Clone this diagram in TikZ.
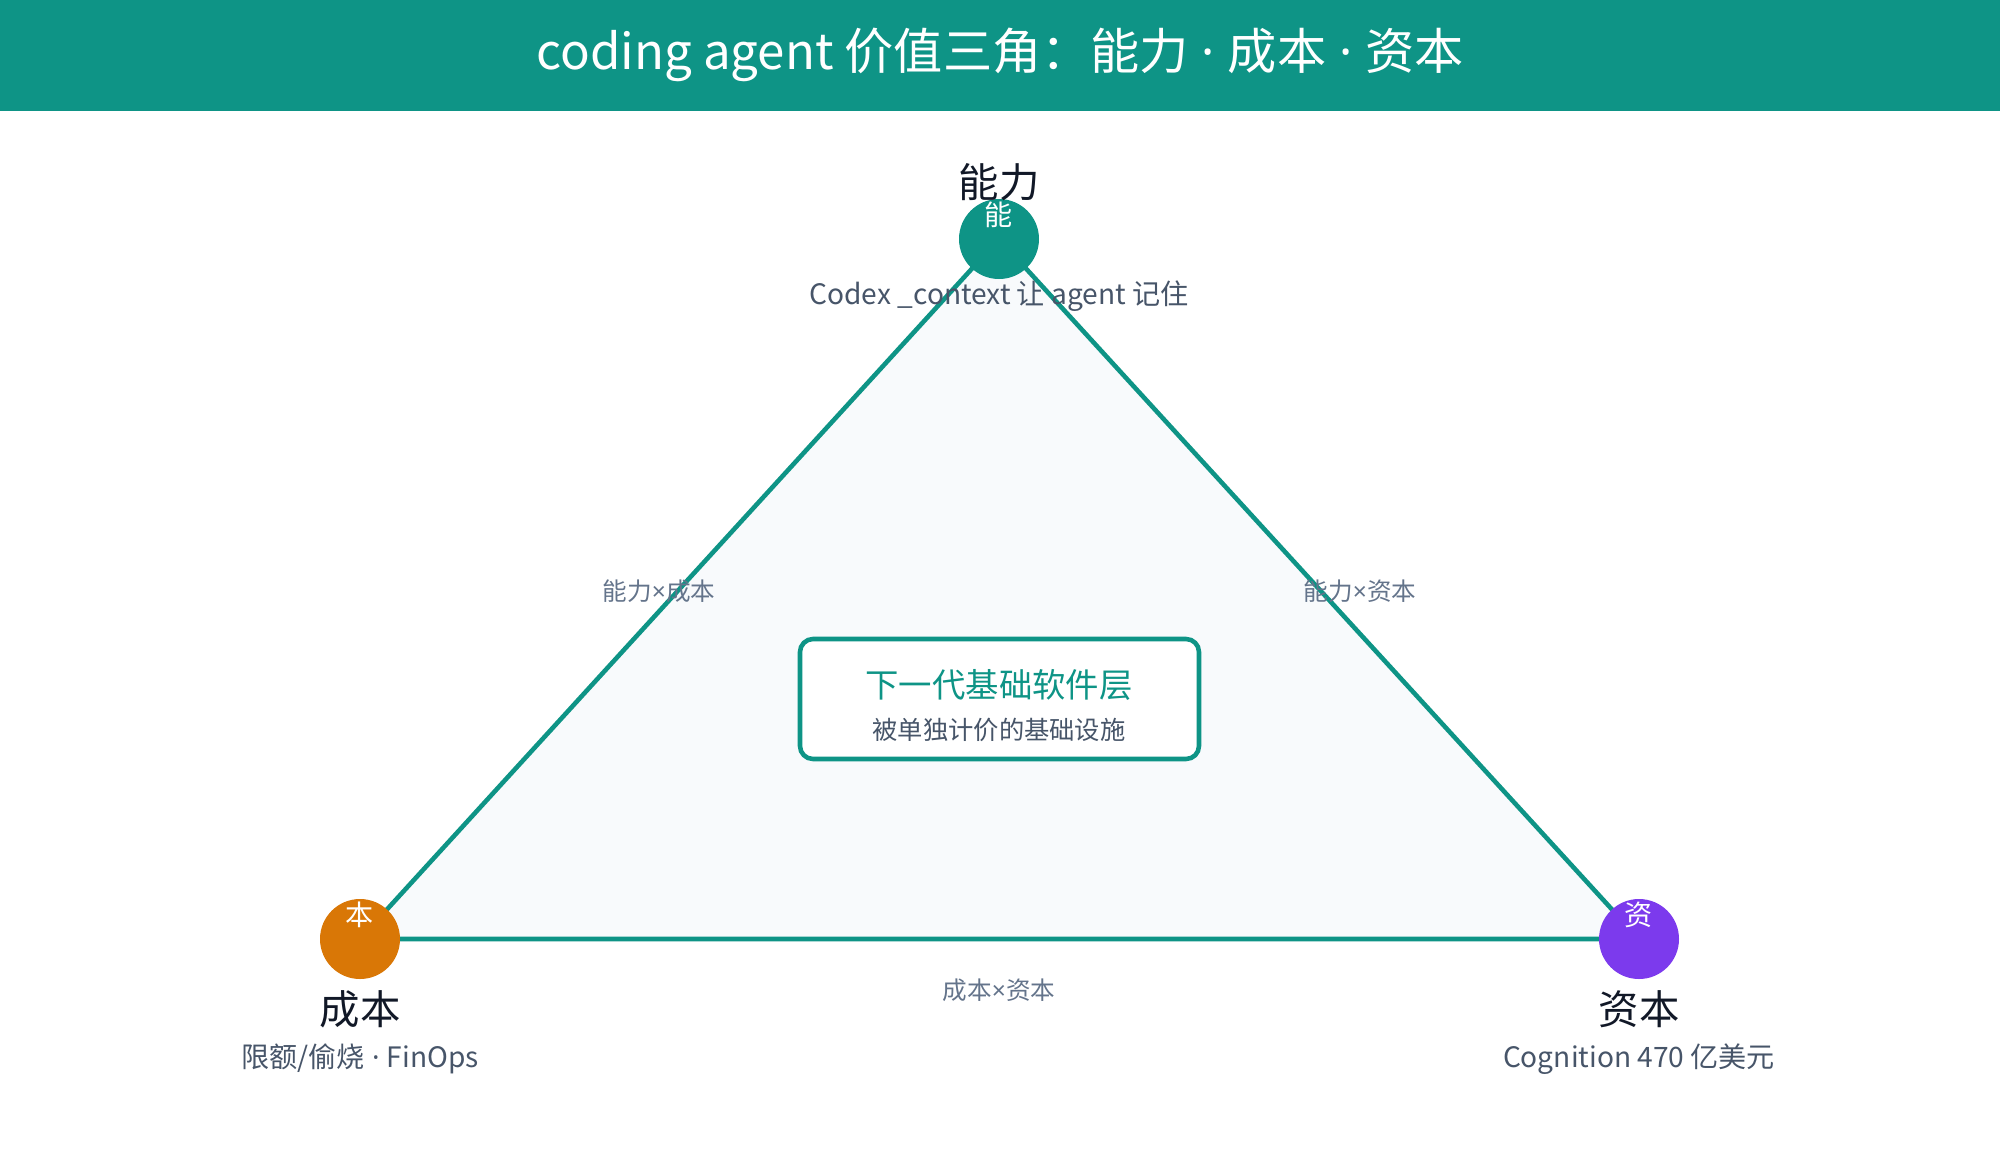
\documentclass[tikz,border=0pt]{standalone}
\usepackage{fontspec}
\setmainfont{Noto Sans CJK SC}
\newfontfamily\latn{Noto Sans}
\newcommand{\dotsep}{{\latn\ ·\ }}
\newcommand{\tms}{{\latn ×}}
\usetikzlibrary{positioning}
\definecolor{teal}{RGB}{14,148,134}
\definecolor{orangeC}{RGB}{217,119,6}
\definecolor{purpleC}{RGB}{124,58,237}
\definecolor{darktext}{RGB}{17,24,39}
\definecolor{subtext}{RGB}{71,85,105}
\definecolor{edgetext}{RGB}{100,116,139}
\definecolor{trifill}{RGB}{248,250,252}
\tikzset{
  corner/.style={circle,minimum size=0.8cm,inner sep=0pt},
  letter/.style={text=white,font=\fontsize{8}{8}\selectfont},
  vlabel/.style={text=darktext,font=\fontsize{11.5}{12}\selectfont},
  vsub/.style={text=subtext,font=\fontsize{8}{9}\selectfont},
  elabel/.style={text=edgetext,font=\fontsize{7}{8}\selectfont},
  side/.style={draw=teal,line width=1.3pt},
}
\begin{document}
\begin{tikzpicture}
\useasboundingbox (0,0) rectangle (20,-11.6);
% header
\fill[teal] (0,0) rectangle (20,-1.11);
\node[text=white,font=\fontsize{14}{15}\selectfont] (title) at (10,-0.55) {coding agent 价值三角：能力\dotsep 成本\dotsep 资本};
% vertices
\coordinate (cap) at (9.99,-2.39);
\coordinate (cost) at (3.60,-9.39);
\coordinate (fund) at (16.39,-9.39);
\filldraw[side,fill=trifill] (cap) -- (cost) -- (fund) -- cycle;
\node[corner,fill=teal] (capc) at (cap) {};
\node[corner,fill=orangeC] (costc) at (cost) {};
\node[corner,fill=purpleC] (fundc) at (fund) {};
\node[letter] at (9.99,-2.15) {能};
\node[letter] at (3.60,-9.15) {本};
\node[letter] at (16.39,-9.15) {资};
% labels
\node[vlabel] (capl) at (9.99,-1.82) {能力};
\node[vsub] (caps) at (9.99,-2.96) {Codex \_context 让 agent 记住};
\node[vlabel] (costl) at (3.60,-10.09) {成本};
\node[vsub] (costs) at (3.60,-10.59) {限额/偷烧\dotsep FinOps};
\node[vlabel] (fundl) at (16.39,-10.09) {资本};
\node[vsub] (funds) at (16.39,-10.59) {Cognition 470 亿美元};
% edge labels
\node[elabel] at (6.59,-5.91) {能力\tms 成本};
\node[elabel] at (13.60,-5.91) {能力\tms 资本};
\node[elabel] at (9.99,-9.90) {成本\tms 资本};
% center box
\draw[side,fill=white,rounded corners=0.13cm] (8.00,-6.39) rectangle (11.99,-7.59);
\node[text=teal,font=\fontsize{9.5}{10}\selectfont] (core) at (9.99,-6.85) {下一代基础软件层};
\node[text=subtext,font=\fontsize{7.2}{8}\selectfont] (cores) at (9.99,-7.30) {被单独计价的基础设施};
\end{tikzpicture}
\end{document}
